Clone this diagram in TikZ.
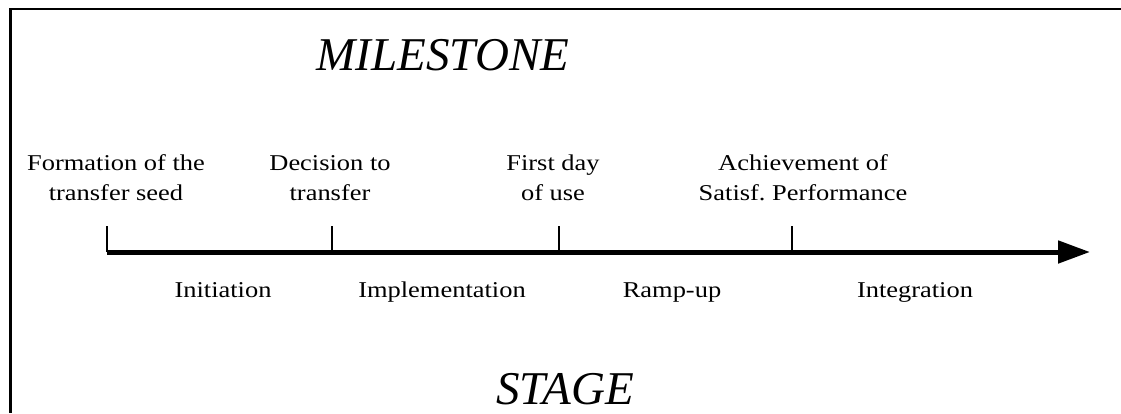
\documentclass[tikz,border=0pt]{standalone}
\usepackage{fontspec}
\setmainfont{Liberation Serif}
\newfontfamily\labelfont[FakeStretch=1.17]{Liberation Serif}
\usetikzlibrary{arrows.meta,positioning}

\begin{document}
\begin{tikzpicture}[x=1pt,y=-1pt,
        milestone/.style={align=center,inner sep=0pt,text depth=0pt,
            font=\labelfont\fontsize{22.6}{30}\selectfont},
        stage/.style={anchor=base,inner sep=0pt,
            font=\labelfont\fontsize{22.6}{30}\selectfont},
        heading/.style={anchor=base,inner sep=0pt,text depth=0pt,
            font=\fontsize{47}{58}\selectfont\itshape},
        tick/.style={line width=1.3pt}]
                            \useasboundingbox (0,0) rectangle (1121,413);
                            % \draw[help lines,step=50] (0,0) grid (1121,413);

                            % frame (only top and left edges show)
                            \draw[line width=2.3pt] (1121,9) -- (10.5,9) -- (10.5,413);

                            \node[heading]  (ms)  at (443,70)  {MILESTONE};
                            \node[heading]  (st)  at (565,404) {STAGE};

                            % time axis
                            \coordinate (a_0) at (107,252);
                            \coordinate (a_1) at (332,252);
                            \coordinate (a_2) at (559,252);
                            \coordinate (a_3) at (792,252);
                            \coordinate (a_e) at (1090,252);
                            \coordinate (t_0) at (107,226);
                            \coordinate (t_1) at (332,226);
                            \coordinate (t_2) at (559,226);
                            \coordinate (t_3) at (792,226);

                            \node[milestone] (m_0) [above=25pt of t_0,xshift=9pt]  {Formation of the\\transfer seed};
                            \node[milestone] (m_1) [above=25pt of t_1,xshift=-2pt] {Decision to\\transfer};
                            \node[milestone] (m_2) [above=25pt of t_2,xshift=-6pt] {First day\\of use};
                            \node[milestone] (m_3) [above=25pt of t_3,xshift=11pt] {Achievement of\\Satisf.\ Performance};

                            \node[stage] (s_0) at (223,297) {Initiation};
                            \node[stage] (s_1) at (442,297) {Implementation};
                            \node[stage] (s_2) at (672,297) {Ramp-up};
                            \node[stage] (s_3) at (915,297) {Integration};

                            \draw[line width=5pt,-{Triangle[length=32pt,width=22pt]}] (a_0) -- (a_e);
                            \draw[tick] (a_0) -- (t_0);
                            \draw[tick] (a_1) -- (t_1);
                            \draw[tick] (a_2) -- (t_2);
                            \draw[tick] (a_3) -- (t_3);
                        \end{tikzpicture}
\end{document}
